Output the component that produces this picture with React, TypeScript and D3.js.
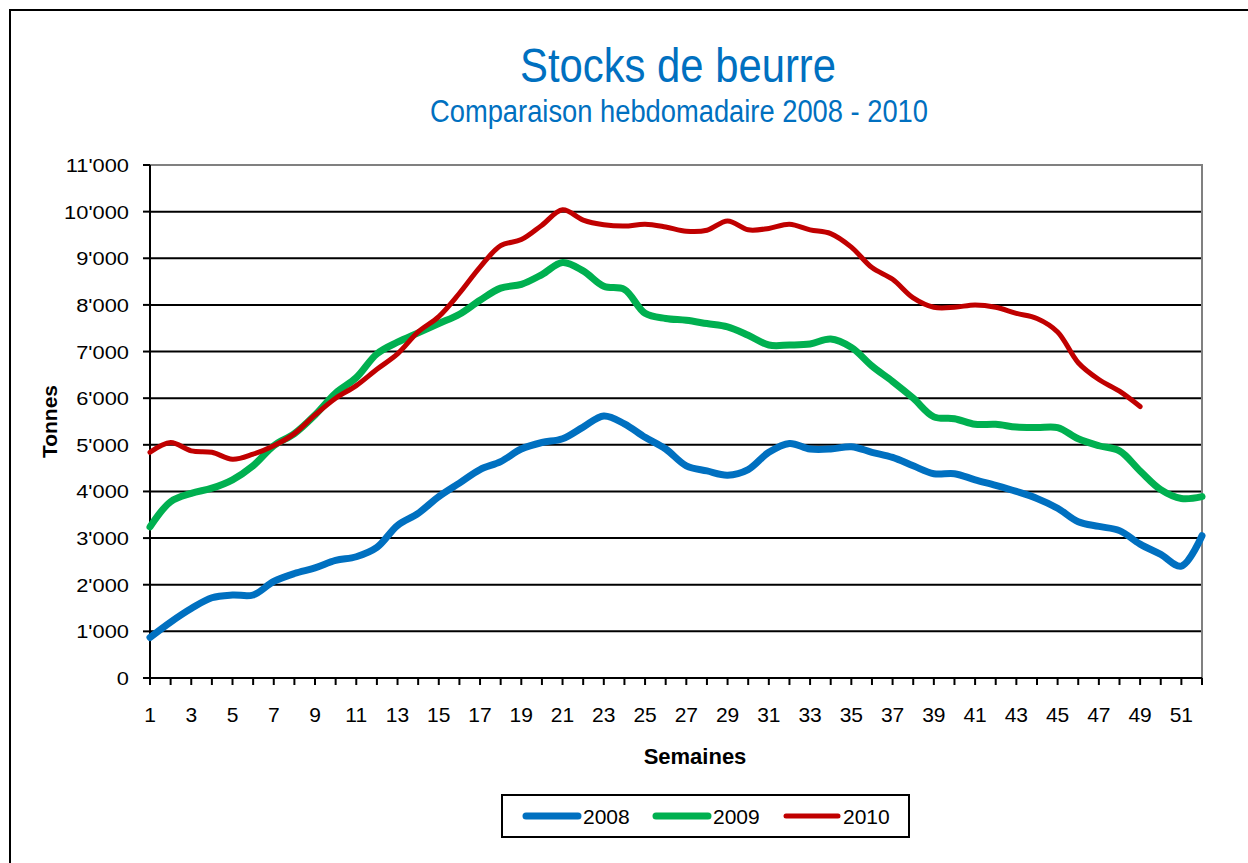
import React, { useRef, useEffect } from "react";
import * as d3 from "d3";

// weekly butter stocks in tonnes
const weeks = d3.range(1, 53);

const stock2008 = [
  870, 1200, 1490, 1720, 1780, 1780, 2070, 2240, 2360, 2520,
  2600, 2800, 3270, 3530, 3890, 4180, 4470, 4640, 4910, 5050,
  5130, 5380, 5620, 5450, 5160, 4910, 4550, 4440, 4350, 4470,
  4840, 5030, 4910, 4910, 4960, 4840, 4730, 4550, 4380, 4380,
  4250, 4130, 4000, 3850, 3640, 3350, 3250, 3160, 2870, 2650,
  2400, 3050,
];

const stock2009 = [
  3240, 3780, 3960, 4070, 4250, 4550, 4980, 5240, 5640, 6110,
  6440, 6950, 7200, 7400, 7600, 7800, 8100, 8360, 8440, 8650,
  8910, 8730, 8400, 8330, 7820, 7710, 7670, 7600, 7530, 7350,
  7140, 7140, 7160, 7270, 7090, 6690, 6360, 6000, 5600, 5560,
  5440, 5440, 5380, 5370, 5370, 5130, 4980, 4870, 4440, 4040,
  3850, 3890,
];

const stock2010 = [
  4840, 5050, 4870, 4840, 4690, 4800, 4980, 5240, 5640, 6000,
  6270, 6620, 6950, 7420, 7750, 8250, 8810, 9270, 9400, 9710,
  10040, 9820, 9720, 9690, 9730, 9670, 9580, 9600, 9800, 9610,
  9640, 9730, 9610, 9530, 9240, 8800, 8550, 8150, 7950, 7950,
  8000, 7950, 7820, 7710, 7420, 6760, 6400, 6150, 5820,
];

const seriesNames = ["2008", "2009", "2010"];
const seriesColors = ["#0070C0", "#00B050", "#C00000"];
const seriesWidths = [7, 7, 5];
const yTicks = d3.range(0, 12000, 1000);

const fmt = (v: number) => {
  if (v === 0) return "0";
  const th = Math.floor(v / 1000);
  return `${th}'000`;
};

const Chart = () => {
  const svgRef = useRef<SVGSVGElement>(null);

  useEffect(() => {
    const svg = d3.select(svgRef.current);
    svg.selectAll("*").remove();

    const width = 1248;
    const height = 863;
    const margin = { top: 165, right: 46, bottom: 185, left: 150 };
    const font = "'Liberation Sans', Arial, sans-serif";
    const narrow = "'Liberation Sans Narrow', 'Arial Narrow', 'Liberation Sans', Arial, sans-serif";

    // chart frame
    svg
      .append("rect")
      .attr("x", 10)
      .attr("y", 10)
      .attr("width", width + 20)
      .attr("height", height + 20)
      .attr("fill", "#fff")
      .attr("stroke", "#000")
      .attr("stroke-width", 2);

    const x = d3
      .scaleLinear()
      .domain([1, 52])
      .range([margin.left, width - margin.right]);

    const y = d3
      .scaleLinear()
      .domain([0, 11000])
      .range([height - margin.bottom, margin.top]);

    const x0 = x(1);
    const x1 = x(52);
    const y0 = y(0);
    const yTop = y(11000);

    // titles
    svg
      .append("text")
      .attr("x", 678)
      .attr("y", 82)
      .attr("text-anchor", "middle")
      .attr("textLength", 316)
      .attr("lengthAdjust", "spacingAndGlyphs")
      .style("font-family", narrow)
      .style("font-size", "48px")
      .style("fill", "#0070C0")
      .text("Stocks de beurre");

    svg
      .append("text")
      .attr("x", 679)
      .attr("y", 122)
      .attr("text-anchor", "middle")
      .attr("textLength", 498)
      .attr("lengthAdjust", "spacingAndGlyphs")
      .style("font-family", narrow)
      .style("font-size", "31px")
      .style("fill", "#0070C0")
      .text("Comparaison hebdomadaire 2008  - 2010");

    // gridlines
    svg
      .append("g")
      .selectAll("line")
      .data(yTicks.filter((t) => t > 0 && t < 11000))
      .join("line")
      .attr("x1", x0)
      .attr("x2", x1)
      .attr("y1", (d) => y(d))
      .attr("y2", (d) => y(d))
      .attr("stroke", "#000")
      .attr("stroke-width", 2);

    // plot area border (top + right)
    svg
      .append("path")
      .attr("d", `M${x0},${yTop}H${x1}V${y0}`)
      .attr("fill", "none")
      .attr("stroke", "#808080")
      .attr("stroke-width", 2);

    // y axis
    const yAxis = svg.append("g");
    yAxis
      .append("line")
      .attr("x1", x0)
      .attr("x2", x0)
      .attr("y1", yTop)
      .attr("y2", y0)
      .attr("stroke", "#000")
      .attr("stroke-width", 2);
    yAxis
      .selectAll(".tk")
      .data(yTicks)
      .join("line")
      .attr("class", "tk")
      .attr("x1", x0 - 7)
      .attr("x2", x0)
      .attr("y1", (d) => y(d))
      .attr("y2", (d) => y(d))
      .attr("stroke", "#000")
      .attr("stroke-width", 2);
    yAxis
      .selectAll("text")
      .data(yTicks)
      .join("text")
      .attr("transform", (d) => `translate(129,${y(d) + 7}) scale(1.15,1)`)
      .attr("text-anchor", "end")
      .style("font-family", font)
      .style("font-size", "19px")
      .style("fill", "#000")
      .text((d) => fmt(d));

    // x axis
    const xAxis = svg.append("g");
    xAxis
      .append("line")
      .attr("x1", x0 - 7)
      .attr("x2", x1)
      .attr("y1", y0)
      .attr("y2", y0)
      .attr("stroke", "#000")
      .attr("stroke-width", 2);
    xAxis
      .selectAll(".tk")
      .data(weeks)
      .join("line")
      .attr("class", "tk")
      .attr("x1", (d) => x(d))
      .attr("x2", (d) => x(d))
      .attr("y1", y0)
      .attr("y2", y0 + 7)
      .attr("stroke", "#000")
      .attr("stroke-width", 2);
    xAxis
      .selectAll("text")
      .data(weeks.filter((w) => w % 2 === 1))
      .join("text")
      .attr("x", (d) => x(d))
      .attr("y", 722)
      .attr("text-anchor", "middle")
      .style("font-family", font)
      .style("font-size", "21px")
      .style("fill", "#000")
      .text((d) => String(d));

    // axis titles
    svg
      .append("text")
      .attr("transform", `translate(57,${(yTop + y0) / 2}) rotate(-90)`)
      .attr("text-anchor", "middle")
      .style("font-family", font)
      .style("font-weight", "bold")
      .style("font-size", "21px")
      .style("fill", "#000")
      .text("Tonnes");

    svg
      .append("text")
      .attr("x", 695)
      .attr("y", 764)
      .attr("text-anchor", "middle")
      .style("font-family", font)
      .style("font-weight", "bold")
      .style("font-size", "22px")
      .style("fill", "#000")
      .text("Semaines");

    // lines
    const allSeries = [stock2008, stock2009, stock2010];
    const line = d3
      .line<number>()
      .x((_, i) => x(weeks[i]))
      .y((d) => y(d))
      .curve(d3.curveCatmullRom.alpha(0.5));

    allSeries.forEach((s, i) => {
      svg
        .append("path")
        .datum(s)
        .attr("fill", "none")
        .attr("stroke", seriesColors[i])
        .attr("stroke-width", seriesWidths[i])
        .attr("stroke-linecap", "round")
        .attr("stroke-linejoin", "round")
        .attr("d", line);
    });

    // legend
    const lg = svg.append("g");
    lg.append("rect")
      .attr("x", 502)
      .attr("y", 795)
      .attr("width", 407)
      .attr("height", 42)
      .attr("fill", "#fff")
      .attr("stroke", "#000")
      .attr("stroke-width", 2);
    const lgX = [526, 656, 786];
    seriesNames.forEach((name, i) => {
      lg.append("line")
        .attr("x1", lgX[i])
        .attr("x2", lgX[i] + 52)
        .attr("y1", 816)
        .attr("y2", 816)
        .attr("stroke", seriesColors[i])
        .attr("stroke-width", seriesWidths[i])
        .attr("stroke-linecap", "round");
      lg.append("text")
        .attr("x", lgX[i] + 57)
        .attr("y", 824)
        .style("font-family", font)
        .style("font-size", "21px")
        .style("fill", "#000")
        .text(name);
    });
  }, []);

  return (
    <svg
      ref={svgRef}
      width={1248}
      height={863}
      style={{ position: "absolute", left: 0, top: 0 }}
    ></svg>
  );
};

export default function App() {
  return <Chart />;
}
